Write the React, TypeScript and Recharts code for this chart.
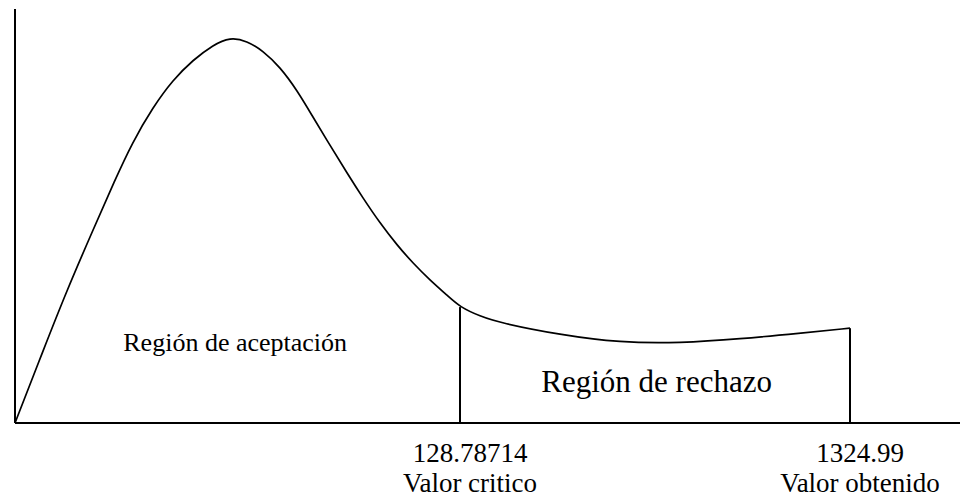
import React from 'react';
import { LineChart, Line, XAxis, YAxis, ReferenceLine, ReferenceDot } from 'recharts';

// curve, x and density on a 0..100 scale
const xs = [0, 2.96, 5.5, 8.25, 10.58, 12.38, 14.6, 16.72, 18.84, 20.95, 22.75, 24.55, 26.24, 28.04, 29.84, 31.53, 33.33, 35.13, 36.83, 38.62, 40.42, 42.12, 43.92, 45.71, 47.09, 49.21, 51.32, 57.67, 64.02, 70.37, 76.72, 83.07, 88.36];
const ys = [0, 17.4, 32.1, 46.6, 58.7, 67.6, 76.3, 82.9, 87.7, 91.3, 93.2, 92.3, 89.9, 86.0, 80.4, 73.9, 67.1, 60.4, 54.3, 48.3, 43.0, 38.6, 34.5, 30.9, 28.0, 25.8, 24.2, 21.3, 19.4, 19.3, 20.3, 21.7, 22.9];

const tickPos = [47.09, 88.36];
const tickValues = ['128.78714', '1324.99'];
const tickNames = ['Valor critico', 'Valor obtenido'];

const regionNames = ['Región de aceptación', 'Región de rechazo'];
const regionX = [23.3, 67.9];
const regionY = [19.6, 10.1];
const regionSize = [26, 31];

const serif = '"Liberation Serif", "Times New Roman", serif';

const data = xs.map((x, i) => ({ x, y: ys[i] }));

function RegionTick(props: any) {
  const { x, y, payload } = props;
  const i = tickPos.indexOf(payload.value);
  if (i < 0) return null;
  return (
    <g>
      <text x={x + 10} y={y + 39} textAnchor="middle" fontSize={27} fontFamily={serif} fill="#000">{tickValues[i]}</text>
      <text x={x + 10} y={y + 69} textAnchor="middle" fontSize={27} fontFamily={serif} fill="#000">{tickNames[i]}</text>
    </g>
  );
}

export default function App() {
  return (
    <div style={{ position: 'absolute', left: 0, top: 0, width: 960, height: 504, background: '#fff' }}>
      <LineChart width={960} height={504} data={data} margin={{ top: 9, right: 0, left: 14, bottom: 0 }}>
        <XAxis type="number" dataKey="x" domain={[0, 100]} ticks={tickPos} interval={0}
          tick={<RegionTick />} tickLine={false} tickSize={0} tickMargin={0} height={81}
          axisLine={{ stroke: '#000', strokeWidth: 2 }} />
        <YAxis type="number" domain={[0, 100]} tick={false} tickLine={false} width={1}
          axisLine={{ stroke: '#000', strokeWidth: 2 }} />
        {tickPos.map(p => (
          <ReferenceLine key={p} segment={[{ x: p, y: 0 }, { x: p, y: ys[xs.indexOf(p)] }]}
            stroke="#000" strokeWidth={2} />
        ))}
        <Line type="basis" dataKey="y" stroke="#000" strokeWidth={1.7} dot={false} isAnimationActive={false} />
        {regionNames.map((name, i) => (
          <ReferenceDot key={name} x={regionX[i]} y={regionY[i]} r={0} stroke="none" fill="none"
            label={{ value: name, position: 'center', fontSize: regionSize[i], fontFamily: serif, fill: '#000' }} />
        ))}
      </LineChart>
    </div>
  );
}
